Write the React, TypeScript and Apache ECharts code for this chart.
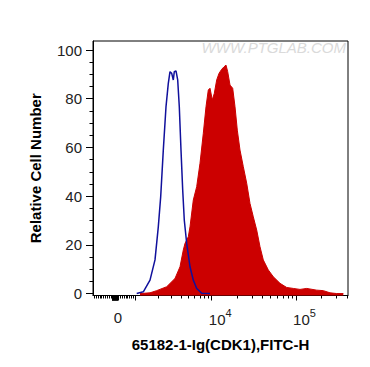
import React, { useEffect, useRef } from "react";
import * as echarts from "echarts";

// Display channels along the x axis (0..255) and relative cell counts
const isotypeChannels = [43.7, 50.3, 57, 62, 65.3, 67.7, 70.3, 73, 75.3, 77, 78.7, 80.3, 81.3, 83, 84.7, 86.3, 88, 89.7, 91.3, 93.7, 97, 100.3, 103.7, 108.7, 117];
const isotypeCounts = [0, 0.7, 5.5, 13.8, 27.4, 39.8, 58.9, 76.7, 86.3, 91.1, 90.4, 87.7, 91.1, 91.4, 87.7, 76.7, 58.9, 42.5, 30.1, 20.6, 11, 5.5, 2.1, 0.1, 0];

const sampleChannels = [47, 57, 63.7, 73.7, 82, 87, 90.3, 92, 95.3, 97, 100.3, 103.7, 107, 110.3, 113, 115.3, 117, 119.3, 121.3, 123.7, 126, 128.7, 131, 133, 134.7, 137, 139.7, 142, 144.3, 147, 150.3, 153.7, 157, 160.3, 163.7, 167, 170.3, 175.3, 180.3, 187, 193.7, 200.3, 207, 213.7, 223.7, 230.3, 237, 243.7, 250.3];
const sampleCounts = [0, 0.3, 1.2, 2.8, 6.2, 11, 17.9, 20.6, 23.3, 27.4, 38.4, 43.9, 53.5, 65.8, 76.7, 83.6, 84.3, 79.5, 82.2, 87.7, 90.4, 92.1, 93.1, 93.8, 91.1, 85.6, 84.3, 76.7, 67.1, 58.9, 52.1, 45.3, 37, 31.5, 26.1, 19.2, 13.8, 9.7, 6.9, 4.2, 2.5, 2.1, 1.7, 2.1, 1.4, 1.2, 0.3, 0, 0];

// Axis tick values (fluorescence units)
const xLabelValues = [0, 1e4, 1e5];
const xLabelExponents = ["", "4", "5"];
const xMajorTickValues = [-90, -80, -70, -60, -50, -40, -30, -20, -10, 0, 10, 20, 30, 40, 50, 60, 70, 80, 90, 1e3, 1e4, 1e5];
const xMinorTickValues = [
  -1000, -900, -800, -700, -600, -500, -400, -300, -200, -100,
  100, 200, 300, 400, 500, 600, 700, 800, 900,
  2e3, 3e3, 4e3, 5e3, 6e3, 7e3, 8e3, 9e3,
  2e4, 3e4, 4e4, 5e4, 6e4, 7e4, 8e4, 9e4,
  2e5, 3e5, 4e5,
];
const yLabelValues = [0, 20, 40, 60, 80, 100];
const yMinorTickValues = [5, 10, 15, 25, 30, 35, 45, 50, 55, 65, 70, 75, 85, 90, 95];

// biexponential-like display transform: fluorescence value -> display channel
function toChannel(v: number): number {
  if (v >= 1000) {
    if (v <= 1e4) return 42 + 76.7 * Math.log10(v / 1e3);
    return 118.7 + 84.3 * Math.log10(v / 1e4);
  }
  const a = Math.abs(v);
  const g = a < 100 ? (0.17 * a) / 100 : 0.17 + (0.83 * (a - 100)) / 900;
  return v >= 0 ? 22 + 20 * g : 22 - 21 * g;
}

const FONT = "'Liberation Sans', Arial, sans-serif";

export default function App() {
  const ref = useRef<HTMLDivElement>(null);
  useEffect(() => {
    if (!ref.current) return;
    const chart = echarts.init(ref.current, null, { renderer: "svg" });
    const isoData = isotypeChannels.map((c, i) => [c, isotypeCounts[i]]);
    const sampleData = sampleChannels.map((c, i) => [c, sampleCounts[i]]);
    const labelChannels = xLabelValues.map(toChannel);
    const xBase = {
      type: "value" as const,
      min: 0,
      max: 255,
      position: "bottom" as const,
      splitLine: { show: false },
    };
    const yBase = {
      type: "value" as const,
      min: -0.8,
      max: 103.7,
      position: "left" as const,
      splitLine: { show: false },
    };
    chart.setOption({
      animation: false,
      grid: {
        left: 93,
        right: 22,
        top: 41,
        bottom: 71.5,
        show: true,
        borderColor: "#000",
        borderWidth: 1,
        containLabel: false,
      },
      xAxis: [
        {
          ...xBase,
          axisLine: { show: true, onZero: false, lineStyle: { color: "#000", width: 1 } },
          axisTick: {
            show: true,
            length: 5,
            customValues: xMajorTickValues.map(toChannel),
            lineStyle: { color: "#000" },
          },
          axisLabel: {
            show: true,
            margin: 9,
            customValues: labelChannels,
            formatter: (val: number) => {
              let idx = 0;
              let best = Infinity;
              labelChannels.forEach((c, i) => {
                const d = Math.abs(c - val);
                if (d < best) {
                  best = d;
                  idx = i;
                }
              });
              if (!xLabelExponents[idx]) return "{z|0}";
              return "{b|10}{s|" + xLabelExponents[idx] + "}";
            },
            rich: {
              b: { fontSize: 15, lineHeight: 15, verticalAlign: "top", color: "#222", fontFamily: FONT, padding: [7, 0, 0, 17] },
              s: { fontSize: 11, lineHeight: 11, verticalAlign: "top", color: "#222", fontFamily: FONT, padding: [3, 0, 0, 0] },
              z: { fontSize: 15, lineHeight: 15, verticalAlign: "top", color: "#222", fontFamily: FONT, padding: [5, 0, 0, 6] },
            },
          },
          name: "65182-1-Ig(CDK1),FITC-H",
          nameLocation: "middle",
          nameGap: 41,
          nameTextStyle: { fontSize: 15, fontWeight: "bold", color: "#000", fontFamily: FONT },
        },
        {
          ...xBase,
          axisLine: { show: false, onZero: false },
          axisTick: {
            show: true,
            length: 3,
            customValues: xMinorTickValues.map(toChannel),
            lineStyle: { color: "#000" },
          },
          axisLabel: { show: false },
        },
      ],
      yAxis: [
        {
          ...yBase,
          axisLine: { show: true, onZero: false, lineStyle: { color: "#000", width: 1 } },
          axisTick: { show: true, length: 7, customValues: yLabelValues, lineStyle: { color: "#000" } },
          axisLabel: {
            show: true,
            margin: 11,
            customValues: yLabelValues,
            fontSize: 15,
            color: "#222",
            fontFamily: FONT,
          },
          name: "Relative Cell Number",
          nameLocation: "middle",
          nameGap: 50,
          nameRotate: 90,
          nameTextStyle: { fontSize: 15, fontWeight: "bold", color: "#000", fontFamily: FONT },
        },
        {
          ...yBase,
          axisLine: { show: false, onZero: false },
          axisTick: { show: true, length: 3.5, customValues: yMinorTickValues, lineStyle: { color: "#000" } },
          axisLabel: { show: false },
        },
      ],
      graphic: [
        {
          type: "text",
          right: 24,
          top: 40,
          silent: true,
          style: {
            text: "WWW.PTGLAB.COM",
            fill: "#dadada",
            font: "italic 15px " + FONT,
          },
        },
      ],
      series: [
        {
          type: "line",
          xAxisIndex: 0,
          yAxisIndex: 0,
          data: sampleData,
          showSymbol: false,
          smooth: false,
          lineStyle: { color: "#cc0000", width: 1 },
          areaStyle: { color: "#cc0000", opacity: 1, origin: "start" },
          z: 2,
        },
        {
          type: "line",
          xAxisIndex: 0,
          yAxisIndex: 0,
          data: isoData,
          showSymbol: false,
          smooth: false,
          lineStyle: { color: "#10109c", width: 1.5, opacity: 1 },
          z: 3,
        },
      ],
    });
    return () => chart.dispose();
  }, []);
  return (
    <div
      ref={ref}
      style={{ position: "fixed", left: 0, top: 0, width: 370, height: 367, background: "#fff" }}
    />
  );
}
